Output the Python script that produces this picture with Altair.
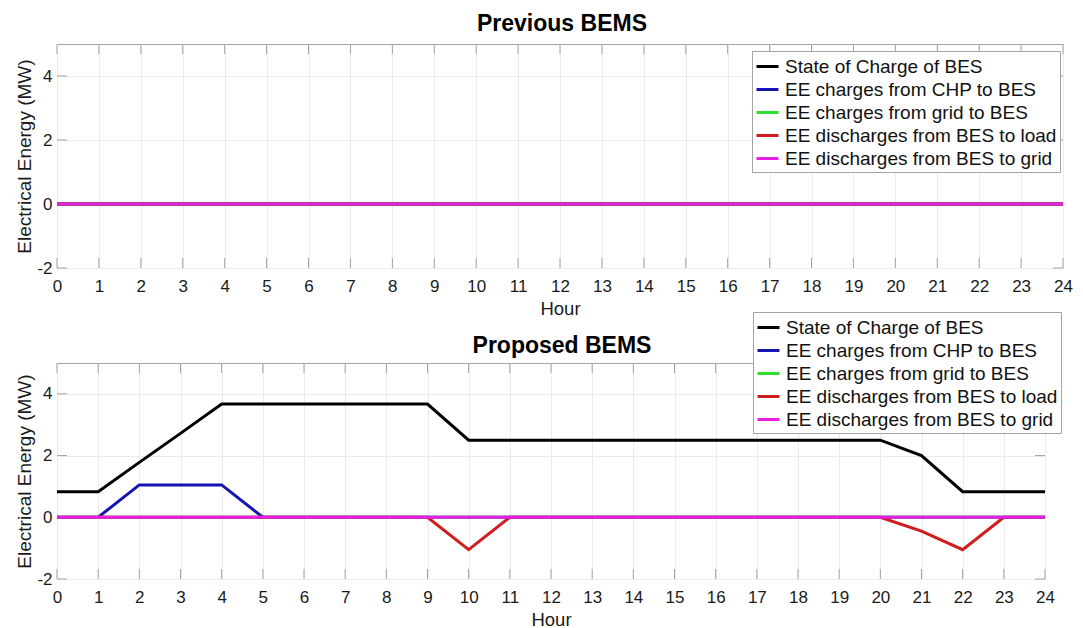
import altair as alt
import pandas as pd

FONT = "Liberation Sans"

hours = [0, 1, 2, 3, 4, 5, 6, 7, 8, 9, 10, 11, 12, 13, 14, 15, 16, 17, 18, 19, 20, 21, 22, 23, 24]
y_ticks = [-2, 0, 2, 4]

series_names = [
    "State of Charge of BES",
    "EE charges from CHP to BES",
    "EE charges from grid to BES",
    "EE discharges from BES to load",
    "EE discharges from BES to grid",
]
series_colors = ["#000000", "#1414b4", "#2ee02e", "#d01c1c", "#e61ee6"]

# Previous BEMS: the battery is never used
prev_soc = [0, 0, 0, 0, 0, 0, 0, 0, 0, 0, 0, 0, 0, 0, 0, 0, 0, 0, 0, 0, 0, 0, 0, 0, 0]
prev_chp_charge = [0, 0, 0, 0, 0, 0, 0, 0, 0, 0, 0, 0, 0, 0, 0, 0, 0, 0, 0, 0, 0, 0, 0, 0, 0]
prev_grid_charge = [0, 0, 0, 0, 0, 0, 0, 0, 0, 0, 0, 0, 0, 0, 0, 0, 0, 0, 0, 0, 0, 0, 0, 0, 0]
prev_load_discharge = [0, 0, 0, 0, 0, 0, 0, 0, 0, 0, 0, 0, 0, 0, 0, 0, 0, 0, 0, 0, 0, 0, 0, 0, 0]
prev_grid_discharge = [0, 0, 0, 0, 0, 0, 0, 0, 0, 0, 0, 0, 0, 0, 0, 0, 0, 0, 0, 0, 0, 0, 0, 0, 0]

# Proposed BEMS
prop_soc = [0.83, 0.83, 1.78, 2.72, 3.67, 3.67, 3.67, 3.67, 3.67, 3.67, 2.5, 2.5, 2.5,
            2.5, 2.5, 2.5, 2.5, 2.5, 2.5, 2.5, 2.5, 2.0, 0.83, 0.83, 0.83]
prop_chp_charge = [0, 0, 1.05, 1.05, 1.05, 0, 0, 0, 0, 0, 0, 0, 0, 0, 0, 0, 0, 0, 0, 0, 0, 0, 0, 0, 0]
prop_grid_charge = [0, 0, 0, 0, 0, 0, 0, 0, 0, 0, 0, 0, 0, 0, 0, 0, 0, 0, 0, 0, 0, 0, 0, 0, 0]
prop_load_discharge = [0, 0, 0, 0, 0, 0, 0, 0, 0, 0, -1.05, 0, 0, 0, 0, 0, 0, 0, 0, 0, 0, -0.45, -1.05, 0, 0]
prop_grid_discharge = [0, 0, 0, 0, 0, 0, 0, 0, 0, 0, 0, 0, 0, 0, 0, 0, 0, 0, 0, 0, 0, 0, 0, 0, 0]

FRAME = "#a3a3a3"
TICK_LEN = 10


def long_frame(columns):
    rows = []
    for name, values in zip(series_names, columns):
        for h, v in zip(hours, values):
            rows.append({"hour": h, "value": v, "series": name})
    return pd.DataFrame(rows)


def panel(columns, title, width, height, legend_x, legend_y, title_dx, title_offset):
    df = long_frame(columns)
    x = alt.X("hour:Q", scale=alt.Scale(domain=[0, 24], nice=False, zero=False),
              axis=alt.Axis(values=hours, title="Hour"))
    y = alt.Y("value:Q", scale=alt.Scale(domain=[-2, 5], nice=False, zero=False),
              axis=alt.Axis(values=y_ticks, title="Electrical Energy (MW)",
                            labelExpr="datum.value < 0 ? '-' + format(-datum.value, 'd') : datum.label"))
    legend = alt.Legend(
        orient="none", legendX=legend_x, legendY=legend_y, direction="vertical",
        symbolType="stroke", symbolSize=484, symbolStrokeWidth=3,
        labelFont=FONT, labelFontSize=19, labelColor="#111111", labelLimit=500,
        labelOffset=5, padding=3, rowPadding=0,
        strokeColor=FRAME, fillColor="white",
    )
    color = alt.Color("series:N", title=None,
                      scale=alt.Scale(domain=series_names, range=series_colors),
                      legend=legend)

    xt = pd.DataFrame({"hour": hours})
    yt = pd.DataFrame({"value": y_ticks})
    tick_style = dict(color=FRAME, strokeWidth=1)
    ticks = [
        alt.Chart(xt).mark_rule(**tick_style).encode(x=x, y=alt.value(0), y2=alt.value(TICK_LEN)),
        alt.Chart(xt).mark_rule(**tick_style).encode(x=x, y=alt.value(height), y2=alt.value(height - TICK_LEN)),
        alt.Chart(yt).mark_rule(**tick_style).encode(y=y, x=alt.value(0), x2=alt.value(TICK_LEN)),
        alt.Chart(yt).mark_rule(**tick_style).encode(y=y, x=alt.value(width), x2=alt.value(width - TICK_LEN)),
    ]

    lines = [
        alt.Chart(df).transform_filter(alt.datum.series == name)
        .mark_line(strokeWidth=3)
        .encode(x=x, y=y, color=color)
        for name in series_names
    ]

    return alt.layer(*ticks, *lines).properties(
        width=width, height=height,
        title=alt.TitleParams(text=title, fontSize=23, fontWeight="bold", font=FONT,
                              color="#000000", anchor="middle", offset=title_offset, dx=title_dx),
    )


top = panel([prev_soc, prev_chp_charge, prev_grid_charge, prev_load_discharge, prev_grid_discharge],
            "Previous BEMS", 1006, 224, 695, 7, 2, 8)
# the lower legend rises 51 px above its plot, so the title is pulled back down by that much
bottom = panel([prop_soc, prop_chp_charge, prop_grid_charge, prop_load_discharge, prop_grid_discharge],
               "Proposed BEMS", 988, 216, 696, -51, 11, -46)

chart = (
    alt.vconcat(top, bottom, spacing=95, bounds="flush")
    .resolve_scale(color="independent")
    .resolve_legend(color="independent")
    .configure(padding={"left": 15, "top": 12, "right": 0, "bottom": 0}, background="white")
    .configure_view(stroke=FRAME, strokeWidth=1)
    .configure_axis(
        grid=True, gridColor="#ebebeb", gridWidth=1, domain=False, ticks=False, tickSize=0,
        labelFont=FONT, labelFontSize=17, labelColor="#1a1a1a",
        titleFont=FONT, titleFontWeight="normal", titleColor="#1a1a1a",
        labelFlush=False, labelOverlap=False,
    )
    .configure_axisX(labelPadding=10, titlePadding=5, titleFontSize=18.5)
    .configure_axisY(labelPadding=5, titlePadding=2, titleFontSize=19)
)

chart.save("out.html", embed_options={"renderer": "svg", "actions": False})
